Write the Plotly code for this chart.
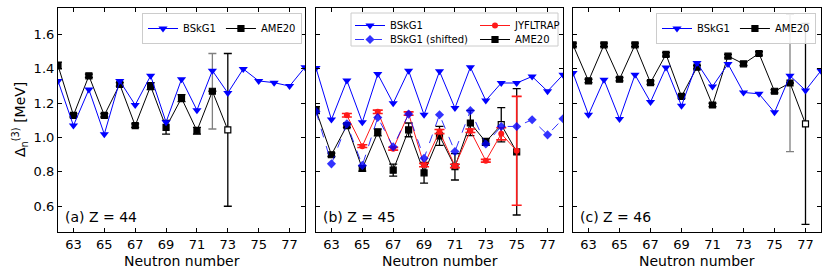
import plotly.graph_objects as go

# ---------------- data ----------------
N_bskg = list(range(62, 79))

# panel (a) Z = 44
bskg_a = [1.33, 1.07, 1.28, 1.02, 1.33, 1.19, 1.36, 1.09, 1.34, 1.16, 1.39, 1.26, 1.40, 1.33, 1.32, 1.30, 1.41]
N_ame_a = list(range(62, 74))
ame_a = [1.42, 1.13, 1.36, 1.13, 1.31, 1.07, 1.30, 1.06, 1.23, 1.04, 1.27, 1.045]
ame_a_err = [0.02, 0.01, 0.01, 0.01, 0.01, 0.01, 0.02, 0.04, 0.02, 0.02, 0.22, 0.445]
ame_a_open = [73]
ame_a_gray = [72]

# panel (b) Z = 45
bskg_b = [1.405, 1.105, 1.333, 1.09, 1.37, 1.20, 1.39, 1.133, 1.386, 1.172, 1.41, 1.216, 1.318, 1.318, 1.356, 1.27, 1.366]
bskg_b_shift = [1.152, 0.847, 1.08, 0.838, 1.117, 0.947, 1.137, 0.88, 1.133, 0.919, 1.157, 0.963, 1.065, 1.065, 1.104, 1.016, 1.11]
N_jyfl = list(range(64, 76))
jyfl_b = [1.13, 0.95, 1.15, 0.935, 1.14, 0.84, 1.035, 0.835, 1.04, 0.865, 1.022, 0.923]
jyfl_b_err = [0.01, 0.008, 0.01, 0.008, 0.01, 0.01, 0.012, 0.01, 0.01, 0.008, 0.035, 0.317]
N_ame_b = list(range(62, 76))
ame_b = [1.16, 0.90, 1.07, 0.82, 1.03, 0.81, 1.045, 0.795, 1.01, 0.83, 1.085, 0.975, 1.075, 0.917]
ame_b_err = [0.02, 0.01, 0.01, 0.015, 0.02, 0.035, 0.04, 0.06, 0.055, 0.077, 0.074, 0.02, 0.10, 0.368]
ame_b_open = [74]
ame_b_gray = []

# panel (c) Z = 46
bskg_c = [1.376, 1.133, 1.337, 1.109, 1.366, 1.207, 1.409, 1.185, 1.435, 1.298, 1.429, 1.263, 1.255, 1.147, 1.36, 1.275, 1.39]
N_ame_c = list(range(62, 78))
ame_c = [1.54, 1.33, 1.54, 1.34, 1.54, 1.32, 1.485, 1.24, 1.41, 1.19, 1.475, 1.43, 1.49, 1.27, 1.318, 1.08]
ame_c_err = [0.01, 0.01, 0.01, 0.01, 0.01, 0.01, 0.01, 0.01, 0.01, 0.01, 0.01, 0.01, 0.01, 0.01, 0.40, 0.585]
ame_c_open = [77]
ame_c_gray = [76]

x_ticks = [63, 65, 67, 69, 71, 73, 75, 77]
y_ticks = [0.6, 0.8, 1.0, 1.2, 1.4, 1.6]
panel_labels = ["(a) Z = 44", "(b) Z = 45", "(c) Z = 46"]

# ---------------- figure ----------------
W, H = 830, 277
FONT = "DejaVu Sans"
BLUE = "#0000ff"
RED = "#ff1a1a"

fig = go.Figure()

px_x = [(58, 305), (316, 563), (573, 821)]
py_top, py_bot = 8, 232


def add_ame(N, vals, errs, opens, grays, xa, ya, legend, rank):
    gN = [n for n in N if n in grays]
    if gN:
        gv = [vals[N.index(n)] for n in gN]
        ge = [errs[N.index(n)] for n in gN]
        fig.add_trace(go.Scatter(
            x=gN, y=gv, mode="markers", xaxis=xa, yaxis=ya,
            marker=dict(size=1, color="rgba(0,0,0,0)"),
            error_y=dict(type="data", array=ge, color="#808080", thickness=1.3, width=4),
            showlegend=False, hoverinfo="skip"))
    be = [0 if n in grays else e for n, e in zip(N, errs)]
    fills = ["white" if n in opens else "black" for n in N]
    fig.add_trace(go.Scatter(
        x=N, y=vals, mode="lines+markers", name="AME20", xaxis=xa, yaxis=ya,
        line=dict(color="black", width=1),
        marker=dict(symbol="square", size=6, color=fills, line=dict(color="black", width=1.2)),
        error_y=dict(type="data", array=be, color="black", thickness=1.3, width=4),
        legend=legend, showlegend=True, legendrank=rank))


def add_bskg(vals, xa, ya, legend, rank):
    fig.add_trace(go.Scatter(
        x=N_bskg, y=vals, mode="lines+markers", name="BSkG1", xaxis=xa, yaxis=ya,
        line=dict(color=BLUE, width=1),
        marker=dict(symbol="triangle-down", size=8, color=BLUE),
        legend=legend, showlegend=True, legendrank=rank))


# panel a
add_ame(N_ame_a, ame_a, ame_a_err, ame_a_open, ame_a_gray, "x", "y", "legend", 2)
add_bskg(bskg_a, "x", "y", "legend", 1)

# panel b  (legend rows: legend2 = BSkG1 | JYFLTRAP, legend3 = BSkG1 (shifted) | AME20)
add_ame(N_ame_b, ame_b, ame_b_err, ame_b_open, ame_b_gray, "x2", "y2", "legend3", 2)
fig.add_trace(go.Scatter(
    x=N_jyfl, y=jyfl_b, mode="lines+markers", name="JYFLTRAP", xaxis="x2", yaxis="y2",
    line=dict(color=RED, width=1),
    marker=dict(symbol="circle", size=6, color=RED),
    error_y=dict(type="data", array=jyfl_b_err, color=RED, thickness=1.6, width=5),
    legend="legend2", legendrank=2))
fig.add_trace(go.Scatter(
    x=N_bskg, y=bskg_b_shift, mode="lines+markers", name="BSkG1 (shifted)", xaxis="x2", yaxis="y2",
    line=dict(color=BLUE, width=1, dash="dash"),
    marker=dict(symbol="diamond", size=7, color=BLUE),
    opacity=0.8,
    legend="legend3", legendrank=1))
add_bskg(bskg_b, "x2", "y2", "legend2", 1)

# panel c
add_ame(N_ame_c, ame_c, ame_c_err, ame_c_open, ame_c_gray, "x3", "y3", "legend4", 2)
add_bskg(bskg_c, "x3", "y3", "legend4", 1)

# axes
ydom = [1 - py_bot / H, 1 - py_top / H]
axis_common = dict(showline=True, linecolor="black", linewidth=1.2, mirror="allticks",
                   ticks="inside", ticklen=4, tickwidth=1, tickcolor="black",
                   showgrid=False, zeroline=False,
                   tickfont=dict(family=FONT, size=13, color="black"))
layout = dict(width=W, height=H, margin=dict(l=0, r=0, t=0, b=0),
              plot_bgcolor="white", paper_bgcolor="white",
              font=dict(family=FONT, color="black"))
for i, (x0, x1) in enumerate(px_x):
    sfx = "" if i == 0 else str(i + 1)
    layout["xaxis" + sfx] = dict(axis_common, domain=[x0 / W, x1 / W], range=[62, 78],
                                 tickvals=x_ticks, anchor="y" + sfx)
    layout["yaxis" + sfx] = dict(axis_common, domain=ydom, range=[0.45, 1.755],
                                 tickvals=y_ticks, tickformat=".1f",
                                 showticklabels=(i == 0), anchor="x" + sfx)

leg_font = dict(family=FONT, size=10, color="black")
layout["legend"] = dict(orientation="h", x=302 / W, xanchor="right", y=1 - 13 / H, yanchor="top",
                        bgcolor="rgba(255,255,255,0.85)", bordercolor="#cccccc", borderwidth=1,
                        font=leg_font, traceorder="normal")
layout["legend4"] = dict(orientation="h", x=816 / W, xanchor="right", y=1 - 13 / H, yanchor="top",
                         bgcolor="rgba(255,255,255,0.85)", bordercolor="#cccccc", borderwidth=1,
                         font=leg_font, traceorder="normal")
layout["legend2"] = dict(orientation="h", x=350 / W, xanchor="left", y=1 - 11 / H, yanchor="top",
                         bgcolor="rgba(0,0,0,0)", borderwidth=0, font=leg_font,
                         entrywidth=80, entrywidthmode="pixels", traceorder="normal")
layout["legend3"] = dict(orientation="h", x=350 / W, xanchor="left", y=1 - 25 / H, yanchor="top",
                         bgcolor="rgba(0,0,0,0)", borderwidth=0, font=leg_font,
                         entrywidth=80, entrywidthmode="pixels", traceorder="normal")
fig.update_layout(**layout)

# legend box for panel b
fig.add_shape(type="rect", xref="paper", yref="paper",
              x0=351 / W, x1=558 / W, y0=1 - 46 / H, y1=1 - 13 / H,
              fillcolor="rgba(255,255,255,0.85)", line=dict(color="#cccccc", width=1),
              layer="above")

# annotations
for i, (x0, x1) in enumerate(px_x):
    fig.add_annotation(text=panel_labels[i], xref="paper", yref="paper",
                       x=(x0 + 5) / W, y=1 - 217 / H, xanchor="left", yanchor="middle",
                       showarrow=False, font=dict(family=FONT, size=14, color="black"))
    fig.add_annotation(text="Neutron number", xref="paper", yref="paper",
                       x=(x0 + x1) / 2 / W, y=1 - 261 / H, xanchor="center", yanchor="middle",
                       showarrow=False, font=dict(family=FONT, size=14, color="black"))
fig.add_annotation(text="Δ<sub>n</sub><sup>(3)</sup> [MeV]", xref="paper", yref="paper",
                   x=20 / W, y=1 - 120 / H, xanchor="center", yanchor="middle", textangle=-90,
                   showarrow=False, font=dict(family=FONT, size=14, color="black"))

fig.write_html("out.html", config={"displayModeBar": False},
               post_script="document.body.style.margin='0';document.body.style.padding='0';")
